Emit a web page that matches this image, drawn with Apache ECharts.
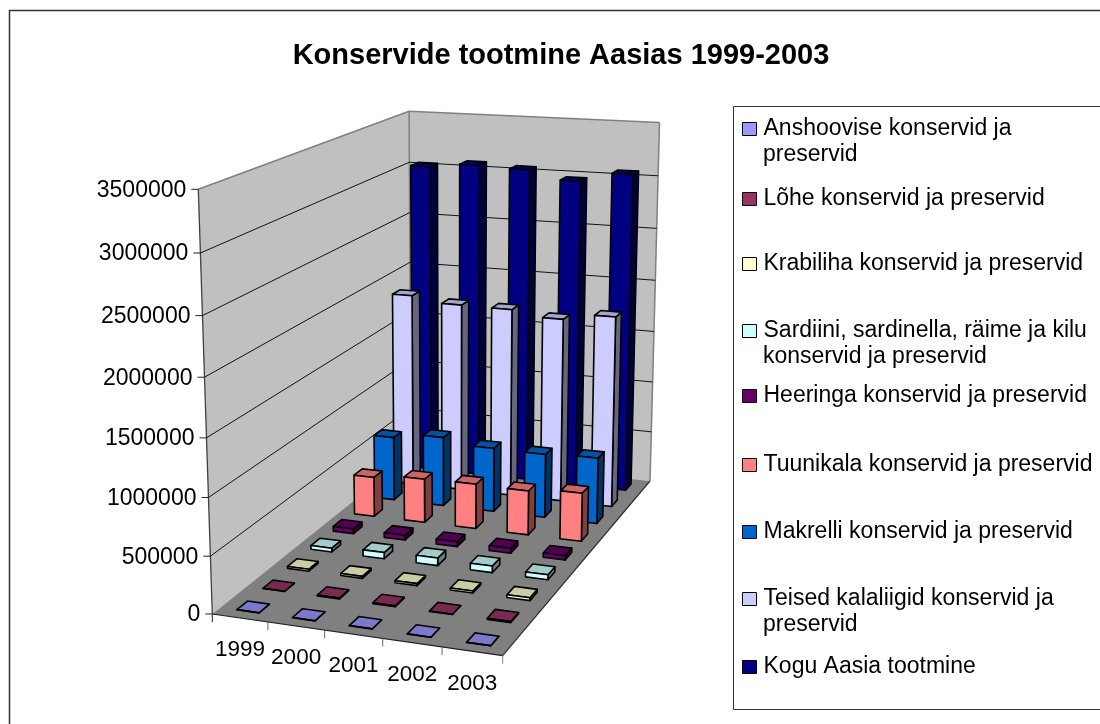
<!DOCTYPE html>
<html>
<head>
<meta charset="utf-8">
<style>html,body{margin:0;padding:0;background:#fff;overflow:hidden}#c{width:1100px;height:724px}</style>
<script src="https://cdn.jsdelivr.net/npm/echarts@6/dist/echarts.min.js"></script>
</head>
<body>
<div id="c"></div>
<script>
// ---------- data ----------
const years = ['1999', '2000', '2001', '2002', '2003'];
const valueTicks = [0, 500000, 1000000, 1500000, 2000000, 2500000, 3000000, 3500000];
const seriesNames = [
  'Anshoovise konservid ja preservid',
  'Lõhe konservid ja preservid',
  'Krabiliha konservid ja preservid',
  'Sardiini, sardinella, räime ja kilu konservid ja preservid',
  'Heeringa konservid ja preservid',
  'Tuunikala konservid ja preservid',
  'Makrelli konservid ja preservid',
  'Teised kalaliigid konservid ja preservid',
  'Kogu Aasia tootmine'
];
const anshoovise = [1000, 1500, 1500, 1000, 1500];
const lohe = [2000, 8000, 8000, 3000, 10000];
const krabiliha = [18000, 18000, 18000, 18000, 25000];
const sardiini = [35000, 57000, 70000, 60000, 45000];
const heeringa = [45000, 45000, 45000, 45000, 40000];
const tuunikala = [378000, 416000, 424000, 416000, 451000];
const makrelli = [616000, 667000, 614000, 608000, 626000];
const teised = [1875000, 1823000, 1818000, 1765000, 1827000];
const kogu = [3030000, 3070000, 3050000, 2970000, 3060000];
const seriesValues = [anshoovise, lohe, krabiliha, sardiini, heeringa, tuunikala, makrelli, teised, kogu];
const seriesColors = ['#9999FF', '#993366', '#FFFFCC', '#CCFFFF', '#660066', '#FF8080', '#0066CC', '#CCCCFF', '#000080'];

// ---------- layout ----------
const FONT = '"Liberation Sans", Arial, sans-serif';
const legendRows = [127, 197, 262, 329, 394, 463, 530, 597, 665];
const legendFirst = ['Anshoovise konservid ja', null, null, 'Sardiini, sardinella, räime ja kilu', null, null, null, 'Teised kalaliigid konservid ja', null];
const legendSecond = ['preservid', null, null, 'konservid ja preservid', null, null, null, 'preservid', null];

// projected corners of the plot box: [u, depth, value] -> screen
const corner = { A: [212.3, 614], B: [502.7, 655.7], C: [650, 481], D: [411, 455], E: [198.3, 189.3] };
const c3 = -0.055; // perspective along the value axis
function solve2(a, b, c, d, e, f) { const det = a * d - b * c; return [(e * d - b * f) / det, (a * f - c * e) / det]; }
const [c1, c2] = solve2(
  corner.B[0] - corner.C[0], corner.D[0] - corner.C[0],
  corner.B[1] - corner.C[1], corner.D[1] - corner.C[1],
  corner.C[0] - corner.B[0] - corner.D[0] + corner.A[0],
  corner.C[1] - corner.B[1] - corner.D[1] + corner.A[1]);
const axis = [0, 1].map(k => ({
  o: corner.A[k],
  u: corner.B[k] * (1 + c1) - corner.A[k],
  w: corner.D[k] * (1 + c2) - corner.A[k],
  v: corner.E[k] * (1 + c3) - corner.A[k]
}));
function project(u, w, v) {
  const d = 1 + c1 * u + c2 * w + c3 * v;
  return axis.map(a => (a.o + a.u * u + a.w * w + a.v * v) / d);
}
// through ECharts' hidden cartesian scales to the box fractions
function fractions(api, params, cat, val) {
  const p = api.coord([cat, val]);
  const cs = params.coordSys;
  return { u: (p[0] - cs.x) / cs.width, v: (cs.y + cs.height - p[1]) / cs.height };
}
function shade(hex, k) {
  const n = parseInt(hex.slice(1), 16);
  const c = [(n >> 16) & 255, (n >> 8) & 255, n & 255].map(x => Math.round(x * k));
  return 'rgb(' + c.join(',') + ')';
}
const BAR_SHARE = 0.4; // gap width / gap depth 150 %
const rows = seriesValues.length;

function renderBar(s) {
  return function (params, api) {
    const f = fractions(api, params, api.value(0), api.value(1));
    const cw = api.size([1, 0])[0] / params.coordSys.width;
    const u0 = f.u - cw * BAR_SHARE / 2, u1 = f.u + cw * BAR_SHARE / 2;
    const w0 = (s + 0.5 - BAR_SHARE / 2) / rows, w1 = (s + 0.5 + BAR_SHARE / 2) / rows;
    const v = f.v, col = seriesColors[s];
    const face = (pts, fill) => ({
      type: 'polygon', shape: { points: pts },
      style: { fill: fill, stroke: '#000', lineWidth: 1.6, lineJoin: 'round' }
    });
    return {
      type: 'group', children: [
        face([project(u1, w0, 0), project(u1, w1, 0), project(u1, w1, v), project(u1, w0, v)], shade(col, 0.5)),
        face([project(u0, w0, v), project(u1, w0, v), project(u1, w1, v), project(u0, w1, v)], shade(col, 0.8)),
        face([project(u0, w0, 0), project(u1, w0, 0), project(u1, w0, v), project(u0, w0, v)], col)
      ]
    };
  };
}
function renderWalls() {
  const poly = (pts, fill) => ({ type: 'polygon', shape: { points: pts }, style: { fill: fill, stroke: null } });
  const line = (a, b, col, w) => ({ type: 'line', shape: { x1: a[0], y1: a[1], x2: b[0], y2: b[1] }, style: { stroke: col, lineWidth: w } });
  const a = project(0, 0, 0), b = project(1, 0, 0), c = project(1, 1, 0), d = project(0, 1, 0),
    e = project(0, 0, 1), f = project(0, 1, 1), g = project(1, 1, 1);
  return {
    type: 'group', children: [
      poly([a, e, f, d], '#C0C0C0'), poly([d, f, g, c], '#C0C0C0'), poly([a, b, c, d], '#808080'),
      line(e, f, '#808080', 1.5), line(f, g, '#808080', 1.5), line(f, d, '#808080', 1.5), line(g, c, '#808080', 1.5),
      line(a, e, '#404040', 1.3), line(a, b, '#202020', 1.2), line(b, c, '#303030', 1.2)
    ]
  };
}
function renderValueTick(params, api) {
  const val = api.value(1);
  const f = fractions(api, params, 0, val);
  const a = project(0, 0, f.v), b = project(0, 1, f.v), c = project(1, 1, f.v);
  const seg = (p, q, col) => ({ type: 'line', shape: { x1: p[0], y1: p[1], x2: q[0], y2: q[1] }, style: { stroke: col, lineWidth: 1 } });
  const kids = [
    seg([a[0] - 7, a[1]], a, '#222'),
    { type: 'text', style: { x: a[0] - 12, y: a[1] + 1, text: String(val), textAlign: 'right', textVerticalAlign: 'middle', fill: '#000', font: '23px ' + FONT } }
  ];
  if (f.v > 0 && f.v < 1) { kids.push(seg(a, b, '#111'), seg(b, c, '#111')); }
  return { type: 'group', children: kids };
}
function renderCategory(params, api) {
  const i = api.value(0);
  const f = fractions(api, params, i, 0);
  const cw = api.size([1, 0])[0] / params.coordSys.width;
  const t0 = project(f.u - cw / 2, 0, 0), m = project(f.u, 0, 0), t1 = project(f.u + cw / 2, 0, 0);
  const tick = (p, col) => ({ type: 'line', shape: { x1: p[0], y1: p[1], x2: p[0], y2: p[1] + 8 }, style: { stroke: col, lineWidth: 1 } });
  const kids = [
    tick(t0, i === 0 ? '#222' : '#666'),
    { type: 'text', style: { x: m[0], y: m[1] + 32, text: years[i], textAlign: 'center', textVerticalAlign: 'middle', fill: '#000', font: '22.5px ' + FONT } }
  ];
  if (i === years.length - 1) kids.push(tick(t1, '#808080'));
  return { type: 'group', children: kids };
}

const barSeries = seriesNames.map((name, s) => ({
  name: name, type: 'custom', coordinateSystem: 'cartesian2d', z: 20 + rows - s,
  itemStyle: { color: seriesColors[s] }, silent: true,
  encode: { x: 0, y: 1 },
  data: seriesValues[s].map((v, i) => [i, v]),
  renderItem: renderBar(s)
}));
const helperSeries = [
  { name: '_walls', type: 'custom', z: 1, silent: true, data: [[0, 0]], encode: { x: 0, y: 1 }, renderItem: renderWalls },
  { name: '_values', type: 'custom', z: 2, silent: true, data: valueTicks.map(t => [0, t]), encode: { x: 0, y: 1 }, renderItem: renderValueTick },
  { name: '_years', type: 'custom', z: 2, silent: true, data: years.map((y, i) => [i, 0]), encode: { x: 0, y: 1 }, renderItem: renderCategory }
];
const legends = seriesNames.map((name, s) => ({
  data: [name], left: 742, top: legendRows[s] - 13, padding: 0, orient: 'vertical',
  itemWidth: 14, itemHeight: 13, selectedMode: false, icon: 'rect',
  itemStyle: { color: seriesColors[s], borderColor: '#000', borderWidth: 1 },
  textStyle: { fontFamily: FONT, fontSize: 23, color: '#000', lineHeight: 26, padding: [4, 0, 0, 2] },
  formatter: n => legendFirst[s] || n
}));
const wrapped = legendSecond.map((t, s) => t ? {
  type: 'text', x: 763, y: legendRows[s] + 28,
  style: { text: t, fill: '#000', font: '23px ' + FONT, textVerticalAlign: 'middle' }
} : null).filter(Boolean);

const chart = echarts.init(document.getElementById('c'), null, { renderer: 'canvas' });
chart.setOption({
  animation: false,
  backgroundColor: '#fff',
  title: {
    text: 'Konservide tootmine Aasias 1999-2003', left: 556, top: 36, textAlign: 'center',
    textStyle: { fontFamily: FONT, fontWeight: 'bold', fontSize: 29, color: '#000' }
  },
  grid: { left: 0, top: 0, right: 0, bottom: 0, containLabel: false },
  xAxis: { type: 'category', data: years, show: false },
  yAxis: { type: 'value', min: 0, max: 3500000, interval: 500000, show: false },
  legend: legends,
  graphic: [
    { type: 'rect', silent: true, z: 0, shape: { x: 9.5, y: 10.5, width: 1300, height: 900 }, style: { fill: 'none', stroke: '#333', lineWidth: 1.5 } },
    { type: 'rect', silent: true, z: 0, shape: { x: 733.5, y: 106.5, width: 500, height: 603 }, style: { fill: 'none', stroke: '#333', lineWidth: 1 } }
  ].concat(wrapped),
  series: helperSeries.concat(barSeries)
});
</script>
</body>
</html>
